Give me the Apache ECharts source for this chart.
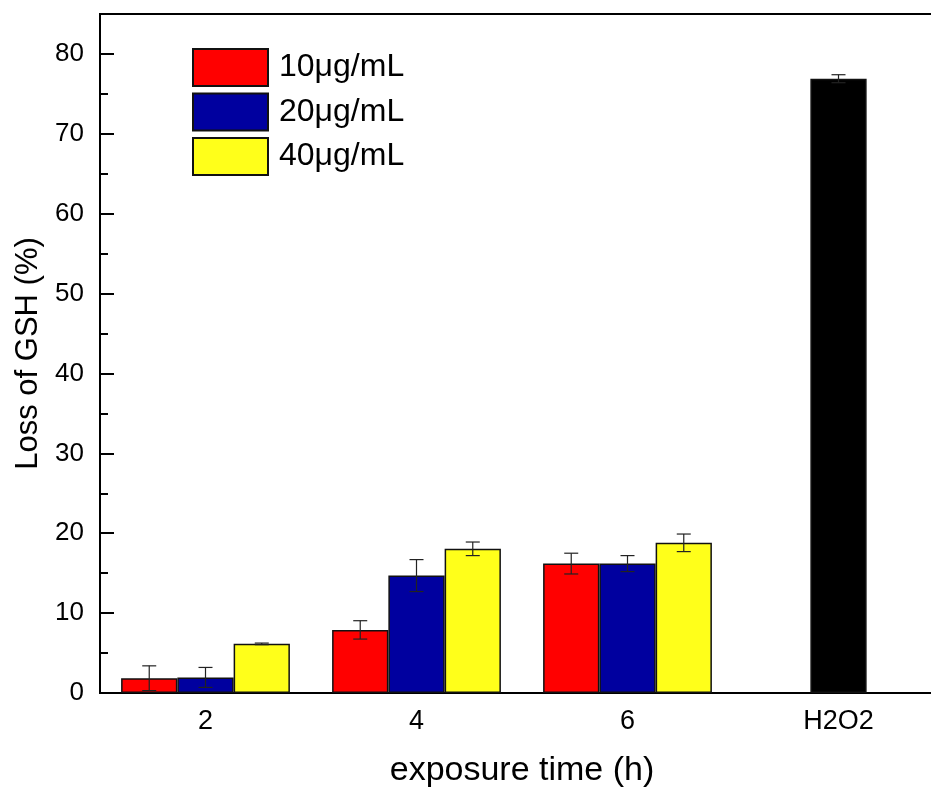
<!DOCTYPE html>
<html>
<head>
<meta charset="utf-8">
<script src="https://cdn.jsdelivr.net/npm/echarts@6/dist/echarts.min.js"></script>
<style>
  html, body { margin: 0; padding: 0; background: #fff; }
  #chart { width: 931px; height: 792px; }
</style>
</head>
<body>
<div id="chart"></div>
<script>
  // categories on the x axis
  var categories = ['2', '4', '6', 'H2O2'];
  var seriesNames = ['10μg/mL', '20μg/mL', '40μg/mL'];

  // mean loss of GSH (%) per concentration, '-' where there is no bar
  var red10 = [1.85, 7.9, 16.2, '-'];
  var blue20 = [1.95, 14.7, 16.2, '-'];
  var yellow40 = [6.15, 18.05, 18.8, '-'];
  var h2o2 = ['-', '-', '-', 76.9];

  // standard deviation per bar
  var red10Err = [1.55, 1.15, 1.3, 0];
  var blue20Err = [1.25, 2.0, 1.0, 0];
  var yellow40Err = [0.1, 0.85, 1.1, 0];
  var h2o2Err = [0, 0, 0, 0.5];

  var font = '"Liberation Sans", Arial, sans-serif';
  var chart = echarts.init(document.getElementById('chart'));

  // error bars are drawn with a custom series, offset like the bar slots
  function errorSeries(values, errs, slot) {
    var data = [];
    for (var i = 0; i < values.length; i++) {
      if (values[i] === '-') continue;
      data.push([i, values[i] - errs[i], values[i] + errs[i]]);
    }
    return {
      type: 'custom',
      xAxisIndex: 0,
      yAxisIndex: 0,
      z: 10,
      silent: true,
      data: data,
      renderItem: function(params, api) {
        var cat = api.value(0);
        var lo = api.coord([cat, api.value(1)]);
        var hi = api.coord([cat, api.value(2)]);
        var catW = api.size([1, 0])[0];
        var barW = catW * 0.8 / 3;
        var x = lo[0] + slot * barW;
        var cap = 7;
        var st = { stroke: '#222', lineWidth: 1.2 };
        return {
          type: 'group',
          children: [
            { type: 'line', shape: { x1: x, y1: lo[1], x2: x, y2: hi[1] }, style: st },
            { type: 'line', shape: { x1: x - cap, y1: hi[1], x2: x + cap, y2: hi[1] }, style: st },
            { type: 'line', shape: { x1: x - cap, y1: lo[1], x2: x + cap, y2: lo[1] }, style: st }
          ]
        };
      }
    };
  }

  function barSeries(name, values, color, stack) {
    var s = {
      name: name,
      type: 'bar',
      xAxisIndex: 0,
      yAxisIndex: 0,
      data: values,
      barGap: '0%',
      barCategoryGap: '20%',
      itemStyle: { color: color, borderColor: '#111', borderWidth: 1.5 }
    };
    if (stack) s.stack = stack;
    return s;
  }

  var option = {
    backgroundColor: '#fff',
    animation: false,
    grid: {
      left: 100,
      right: -13,
      top: 14,
      bottom: 99,
      outerBoundsMode: 'none',
      show: true,
      borderColor: '#000',
      borderWidth: 2
    },
    legend: {
      data: seriesNames,
      orient: 'vertical',
      left: 192,
      top: 48,
      padding: 0,
      itemWidth: 75,
      itemHeight: 37,
      itemGap: 5.5,
      icon: 'rect',
      selectedMode: false,
      textStyle: { fontFamily: font, fontSize: 32, color: '#000', padding: [0, 0, 0, 6] }
    },
    xAxis: [
      {
        type: 'category',
        data: categories,
        position: 'bottom',
        name: 'exposure time (h)',
        nameLocation: 'middle',
        nameGap: 61,
        nameTextStyle: { fontFamily: font, fontSize: 34, color: '#000' },
        axisLine: { lineStyle: { color: '#000', width: 2 } },
        axisTick: { inside: true, alignWithLabel: true, length: 13, lineStyle: { color: '#000', width: 2 } },
        axisLabel: { fontFamily: font, fontSize: 27, color: '#000', margin: 15 },
        splitLine: { show: false }
      },
      {
        // boundary ticks between categories
        type: 'category',
        data: categories,
        position: 'bottom',
        axisLine: { show: false },
        axisTick: { inside: true, length: 8, lineStyle: { color: '#000', width: 2 } },
        axisLabel: { show: false },
        splitLine: { show: false }
      }
    ],
    yAxis: [
      {
        type: 'value',
        min: 0,
        max: 85,
        interval: 10,
        position: 'left',
        name: 'Loss of GSH (%)',
        nameLocation: 'middle',
        nameGap: 54,
        nameTextStyle: { fontFamily: font, fontSize: 31, color: '#000' },
        axisLine: { show: true, lineStyle: { color: '#000', width: 2 } },
        axisTick: { show: true, inside: true, length: 14, lineStyle: { color: '#000', width: 2 } },
        axisLabel: {
          fontFamily: font, fontSize: 26, color: '#000', margin: 16,
          formatter: function(v) { return v % 10 === 0 ? String(v) : ''; }
        },
        splitLine: { show: false }
      },
      {
        // minor ticks every 5
        type: 'value',
        min: 0,
        max: 85,
        interval: 5,
        position: 'left',
        axisLine: { show: false },
        axisTick: { show: true, inside: true, length: 8, lineStyle: { color: '#000', width: 2 } },
        axisLabel: { show: false },
        splitLine: { show: false }
      }
    ],
    series: [
      barSeries(seriesNames[0], red10, '#ff0000'),
      barSeries(seriesNames[1], blue20, '#00009f', 'mid'),
      barSeries(seriesNames[2], yellow40, '#ffff1a'),
      barSeries('H2O2', h2o2, '#000000', 'mid'),
      errorSeries(red10, red10Err, -1),
      errorSeries(blue20, blue20Err, 0),
      errorSeries(yellow40, yellow40Err, 1),
      errorSeries(h2o2, h2o2Err, 0)
    ]
  };

  chart.setOption(option);
</script>
</body>
</html>
